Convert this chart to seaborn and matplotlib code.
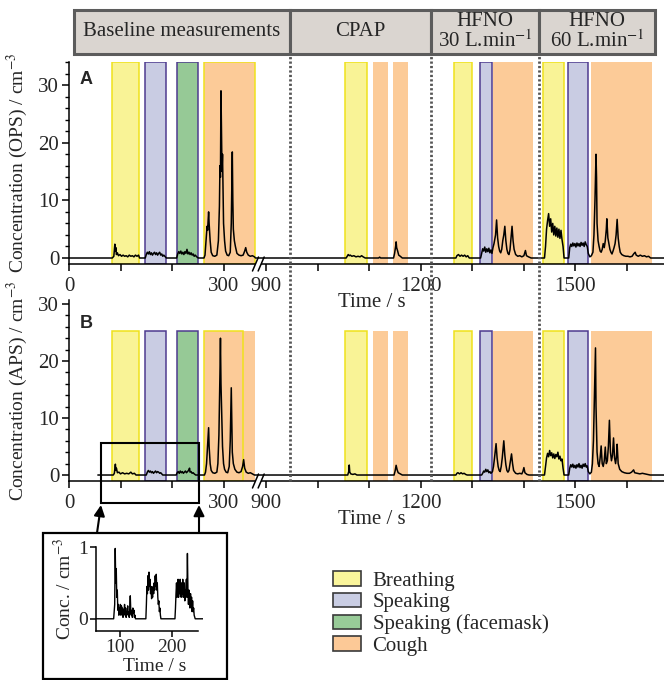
import numpy as np
import matplotlib
matplotlib.use("Agg")
import matplotlib.pyplot as plt
import matplotlib.transforms as mtransforms
import seaborn as sns
from matplotlib.patches import Rectangle, Patch, FancyArrowPatch, Polygon
from matplotlib.lines import Line2D
from matplotlib.ticker import MultipleLocator

# ------------------------------
# Données
# ------------------------------
# OPS (panneau A), temps en s / concentration en cm-3
ops_t = [0, 84, 87, 89, 90, 91, 92, 94, 96, 99, 102, 105, 108, 111, 114, 117, 120, 123, 126, 129, 132, 135, 137,
         148, 150, 152, 154, 156, 158, 160, 162, 164, 166, 168, 170, 172, 174, 176, 178, 180, 182, 184, 187, 189,
         209, 211, 213, 215, 217, 219, 221, 223, 225, 227, 229, 231, 233, 235, 237, 239, 241, 243, 245, 248, 251,
         262, 264, 266, 268, 269, 271, 272, 274, 276, 279, 283, 287, 290, 292, 293, 294, 295, 296, 297, 298, 299,
         300, 302, 304, 307, 310, 313, 315, 316, 317, 318, 319, 321, 323, 326, 330, 334, 338, 341, 343, 345, 348,
         352, 356, 360, 363,
         1055, 1057, 1059, 1061, 1063, 1066, 1070, 1074, 1078, 1082, 1085, 1088, 1092, 1118, 1120, 1122,
         1147, 1149, 1151, 1152, 1153, 1155, 1157, 1160, 1164,
         1268, 1270, 1273, 1276, 1279, 1282, 1285, 1288, 1291, 1294,
         1316, 1318, 1320, 1322, 1324, 1326, 1328, 1330, 1332, 1334, 1336, 1338, 1340, 1342, 1345, 1347, 1349,
         1351, 1353, 1355, 1357, 1359, 1361, 1363, 1365, 1367, 1369, 1371, 1373, 1375, 1377, 1379, 1381, 1384,
         1388, 1392, 1396, 1400, 1402, 1403, 1405, 1409, 1414,
         1440, 1442, 1444, 1446, 1448, 1450, 1452, 1454, 1456, 1458, 1460, 1462, 1464, 1466, 1468, 1470, 1472,
         1474, 1476, 1478,
         1487, 1489, 1491, 1493, 1495, 1497, 1499, 1501, 1503, 1505, 1507, 1509, 1511, 1513, 1515, 1517, 1519,
         1521, 1523, 1525, 1528, 1531, 1534, 1536, 1538, 1540, 1541, 1542, 1544, 1546, 1548, 1550, 1552, 1554,
         1556, 1558, 1560, 1561, 1563, 1565, 1567, 1569, 1571, 1573, 1575, 1577, 1579, 1581, 1583, 1585, 1587,
         1590, 1594, 1598, 1602, 1606, 1610, 1613, 1616, 1618, 1622, 1626, 1630, 1634, 1638, 1642, 1646, 1680]
ops_c = [0, 0, 0.3, 2.4, 1.2, 1.8, 0.6, 0.9, 0.4, 0.6, 0.3, 0.5, 0.3, 0.4, 0.2, 0.5, 0.3, 0.4, 0.2, 0.5, 0.3, 0.5, 0,
         0, 0.6, 1.0, 0.7, 1.1, 0.6, 0.9, 0.5, 0.8, 1.0, 0.6, 0.9, 0.5, 0.8, 1.0, 0.5, 0.7, 0.3, 0.5, 0.2, 0,
         0, 0.7, 1.1, 0.8, 1.2, 0.7, 1.0, 0.6, 1.1, 0.8, 1.5, 0.7, 1.0, 0.6, 0.9, 0.5, 0.7, 0.3, 0.5, 0.2, 0,
         0, 0.5, 3, 5.5, 4.8, 8, 6, 3, 1, 0.4, 0.3, 0.5, 3, 9, 16, 14, 29, 22, 15, 18, 12,
         6, 3, 1.2, 0.5, 0.4, 1, 6, 12, 18.4, 10, 5, 3, 2, 0.8, 0.5, 0.4, 0.5, 1.2, 1.8, 1.0, 0.5,
         0.3, 0.4, 0.2, 0,
         0, 0.3, 0.6, 0.4, 0.5, 0.3, 0.4, 0.2, 0.3, 0.2, 0.4, 0.2, 0, 0, 0.15, 0,
         0, 0.8, 2.0, 2.8, 1.8, 1.2, 0.5, 0.3, 0,
         0, 0.4, 0.6, 0.3, 0.5, 0.3, 0.5, 0.2, 0.4, 0,
         0, 0.8, 1.6, 1.2, 1.9, 1.0, 1.6, 1.1, 1.7, 0.9, 1.4, 0.8, 1.8, 2.5, 4, 6.6, 3.5,
         2, 1.2, 0.9, 1.5, 3, 4, 5.5, 3, 1.5, 0.8, 0.6, 1.4, 3.5, 5.5, 3, 1.5, 0.6,
         0.3, 0.4, 0.2, 0.4, 1.0, 1.3, 0.4, 0.2, 0,
         0, 2, 5, 6.5, 7.7, 5.5, 6.8, 4.5, 6, 4, 5.5, 3.8, 5.2, 3.6, 5, 3.4, 4.8,
         3.2, 2, 0,
         0, 1.8, 2.4, 2.0, 2.6, 2.1, 2.5, 1.9, 2.6, 2.1, 2.5, 2.0, 2.7, 2.2, 2.6, 2.0, 2.8,
         2.3, 2.0, 0.8, 0.2, 0.4, 1, 4, 10, 18, 14, 6, 3, 2, 1.2, 1, 1.5, 2.5,
         1.8, 3, 5, 6.8, 3.5, 2.5, 1.5, 1, 0.7, 1.2, 1.8, 2.5, 4, 6.7, 3.5, 2, 1,
         0.6, 0.4, 0.3, 0.3, 0.2, 0.3, 0.7, 1.0, 0.5, 0.3, 0.5, 0.3, 0.4, 0.2, 0.3, 0, 0]

# APS (panneau B)
aps_t = [56, 86, 88, 90, 91, 92, 94, 97, 100, 104, 108, 112, 116, 120, 123, 127, 130,
         150, 152, 154, 156, 158, 160, 162, 164, 166, 168, 170, 172, 174, 176, 178, 180, 182,
         208, 210, 212, 214, 216, 218, 220, 222, 224, 226, 228, 230, 232, 234, 235, 237, 239, 241, 243, 246,
         263, 265, 267, 269, 271, 272, 274, 276, 279, 283, 287, 289, 291, 292, 293, 294, 295, 296, 297, 298,
         300, 302, 305, 308, 311, 313, 314, 315, 316, 317, 319, 322, 326, 330, 334, 337, 339, 341, 344, 348,
         352, 356, 360,
         1058, 1060, 1061, 1062, 1064, 1068, 1072, 1076, 1148, 1150, 1152, 1154, 1156, 1160, 1164,
         1268, 1270, 1272, 1275, 1278, 1281, 1284, 1287, 1290,
         1318, 1320, 1322, 1324, 1326, 1328, 1330, 1332, 1334, 1336, 1339, 1341, 1343, 1346, 1348, 1350, 1352,
         1354, 1356, 1358, 1361, 1363, 1365, 1367, 1369, 1371, 1373, 1376, 1378, 1380, 1384, 1388, 1392, 1396,
         1398, 1400, 1402, 1406, 1410,
         1440, 1442, 1444, 1446, 1448, 1450, 1452, 1454, 1456, 1458, 1460, 1462, 1464, 1466, 1468, 1470, 1472,
         1474, 1476, 1478,
         1487, 1489, 1491, 1493, 1495, 1497, 1499, 1501, 1503, 1505, 1507, 1509, 1511, 1513, 1515, 1517, 1519,
         1521, 1523, 1525, 1528, 1531, 1533, 1535, 1537, 1539, 1540, 1542, 1544, 1546, 1548, 1550, 1552, 1554,
         1556, 1558, 1560, 1562, 1564, 1566, 1568, 1570, 1572, 1574, 1576, 1578, 1580, 1581, 1583, 1586, 1590,
         1595, 1600, 1605, 1609, 1611, 1613, 1615, 1620, 1625, 1630, 1635, 1640, 1645, 1680]
aps_c = [0, 0, 0.3, 1.9, 0.8, 1.2, 0.4, 0.5, 0.2, 0.4, 0.2, 0.3, 0.2, 0.5, 0.2, 0.3, 0,
         0, 0.5, 0.8, 0.5, 0.7, 0.4, 0.6, 0.3, 0.5, 0.7, 0.4, 0.6, 0.5, 0.3, 0.4, 0.2, 0,
         0, 0.4, 0.6, 0.3, 0.7, 0.4, 0.6, 0.3, 0.5, 0.7, 0.4, 0.6, 0.8, 1.2, 0.5, 0.6, 0.3, 0.4, 0.2, 0,
         0, 0.5, 2, 5, 8.3, 5, 2, 0.8, 0.4, 0.3, 0.5, 2, 7, 12, 17.7, 24, 16, 12.4, 9, 5,
         2, 1, 0.5, 0.4, 1.5, 6, 11, 15.3, 9, 4, 2, 1, 0.5, 0.4, 0.6, 1.5, 2.7, 1.2, 0.5, 0.3,
         0.4, 0.2, 0,
         0, 0.6, 1.75, 0.5, 0.2, 0.1, 0.2, 0, 0, 0.7, 1.7, 0.9, 0.4, 0.2, 0,
         0, 0.3, 0.4, 0.2, 0.4, 0.2, 0.3, 0.1, 0,
         0, 0.3, 0.7, 0.5, 1.0, 0.6, 0.9, 0.4, 0.6, 0.3, 0.6, 1.5, 3, 5.5, 3, 1.5, 0.8,
         0.6, 1.5, 3, 6, 3.5, 1.8, 0.8, 0.5, 0.8, 2, 3.7, 2, 0.8, 0.3, 0.2, 0.3, 0.2,
         0.6, 1.3, 0.4, 0.1, 0,
         0, 1.5, 3, 3.8, 3.2, 4.3, 3.4, 3.9, 3.0, 3.7, 2.9, 3.6, 3.2, 4.0, 2.8, 3.3, 2.5,
         2.8, 1.2, 0,
         0, 1.2, 1.8, 1.4, 1.9, 1.3, 1.7, 1.2, 1.8, 1.4, 2.0, 1.3, 1.7, 1.2, 1.9, 1.5, 2.0,
         1.4, 1.6, 0.6, 0.2, 0.5, 2, 6, 14, 22.3, 12, 4, 2, 1.5, 3, 5.1, 2, 1.5,
         2.5, 4.9, 2, 2.5, 5, 9.6, 4, 2.5, 3.5, 6.5, 3, 2, 3.5, 5.4, 2, 1, 0.6,
         0.4, 0.3, 0.3, 0.5, 0.7, 0.9, 0.4, 0.3, 0.2, 0.3, 0.2, 0.1, 0, 0]

# Encart : zoom sur les mesures de base (APS)
inset_t = [54, 88, 90, 91, 92, 93, 94, 95, 96, 97, 98, 99, 100, 101, 102, 103, 104, 105, 106, 107, 108, 109,
           110, 111, 112, 113, 114, 115, 116, 117, 118, 119, 120, 121, 122, 123, 124, 125, 126, 127, 128, 129, 130,
           150, 151, 152, 153, 154, 155, 156, 157, 158, 159, 160, 161, 162, 163, 164, 165, 166, 167, 168, 169,
           170, 171, 172, 173, 174, 175, 176, 177, 178, 179,
           206, 207, 208, 209, 210, 211, 212, 213, 214, 215, 216, 217, 218, 219, 220, 221, 222, 223, 224, 225,
           226, 227, 228, 229, 230, 231, 232, 233, 234, 235, 236, 237, 238, 239, 240, 241, 242, 243, 245, 260]
inset_c = [0, 0, 0.2, 0.98, 0.5, 0.7, 0.3, 0.4, 0.12, 0.2, 0.05, 0.15, 0.1, 0.2, 0.05, 0.18, 0.08, 0.15, 0.02,
           0.12, 0.1, 0.2, 0.05, 0.15, 0.02, 0.1, 0.08, 0.18, 0.05, 0.1, 0.02, 0.15, 0.32, 0.1, 0.05, 0.12, 0.02,
           0.15, 0.08, 0.12, 0.02, 0.05, 0,
           0, 0.2, 0.45, 0.35, 0.6, 0.4, 0.65, 0.45, 0.55, 0.35, 0.45, 0.28, 0.35, 0.3, 0.45, 0.35, 0.5, 0.4,
           0.6, 0.45, 0.62, 0.4, 0.5, 0.3, 0.2, 0.25, 0.1, 0.15, 0.05, 0,
           0, 0.15, 0.35, 0.5, 0.3, 0.45, 0.55, 0.3, 0.5, 0.35, 0.55, 0.4, 0.3, 0.5, 0.35, 0.55, 0.3, 0.45, 0.5,
           0.25, 0.4, 0.35, 0.55, 0.3, 0.91, 0.4, 0.2, 0.4, 0.3, 0.15, 0.35, 0.2, 0.3, 0.1, 0.25, 0.1, 0.15,
           0.05, 0, 0]

# Périodes d'activité (début, fin, type)
span_start = [84, 148, 210, 263, 1053, 1107, 1146, 1264, 1314, 1341, 1438, 1486, 1531]
span_end = [136, 189, 251, 362, 1096, 1136, 1175, 1299, 1339, 1417, 1477, 1525, 1649]
span_kind = ['Breathing', 'Speaking', 'Speaking (facemask)', 'Cough',
             'Breathing', 'Cough', 'Cough',
             'Breathing', 'Speaking', 'Cough',
             'Breathing', 'Speaking', 'Cough']
cough_outline_A = (263, 362)
cough_outline_B = (263, 337)

header_labels = ['Baseline measurements', 'CPAP', 'HFNO\n30 L.min$^{-1}$', 'HFNO\n60 L.min$^{-1}$']
header_edges = [10, 946, 1219, 1430, 1655]
switch_times = [946, 1219, 1430]

x_ticks = [0, 100, 200, 300, 900, 1000, 1100, 1200, 1300, 1400, 1500, 1600]
x_ticklabels = ['0', '', '', '300', '900', '', '', '1200', '', '', '1500', '']

legend_labels = ['Breathing', 'Speaking', 'Speaking (facemask)', 'Cough']

# ------------------------------
# Style
# ------------------------------
sns.set_style("ticks")
plt.rcParams['font.family'] = ['Liberation Serif', 'DejaVu Serif']
plt.rcParams['mathtext.fontset'] = 'stix'
plt.rcParams['font.size'] = 15

span_style = {
    'Breathing': ('#f9f396', '#efe21c'),
    'Speaking': ('#c9cce3', '#4e3b8f'),
    'Speaking (facemask)': ('#96c996', '#4e3b8f'),
    'Cough': ('#fccb98', 'none'),
}
legend_face = {'Breathing': '#faf59b', 'Speaking': '#c9cde3',
               'Speaking (facemask)': '#98cb98', 'Cough': '#fcc997'}

W, H = 664, 680
fig = plt.figure(figsize=(W / 100, H / 100), dpi=100)


def box(x0, y0, x1, y1):
    return [x0 / W, 1 - y1 / H, (x1 - x0) / W, (y1 - y0) / H]


# axe du temps coupé entre 362 s et 890 s
T_CUT, T_RESUME, GAP = 362, 890, 11


def fwd(t):
    t = np.asarray(t, dtype=float)
    return np.where(t <= T_CUT, t,
                    np.where(t >= T_RESUME, t - T_RESUME + T_CUT + GAP,
                             T_CUT + (t - T_CUT) * GAP / (T_RESUME - T_CUT)))


def inv(u):
    u = np.asarray(u, dtype=float)
    return np.where(u <= T_CUT, u,
                    np.where(u >= T_CUT + GAP, u - T_CUT - GAP + T_RESUME,
                             T_CUT + (u - T_CUT) * (T_RESUME - T_CUT) / GAP))


axA = fig.add_axes(box(69, 62, 663.5, 264))
axB = fig.add_axes(box(69, 300, 663.5, 481))

panels = [
    (axA, ops_t, ops_c, (-1.04, 34), 1.0, cough_outline_A, 'Concentration (OPS) / cm$^{-3}$'),
    (axB, aps_t, aps_c, (-1.05, 30.7), 0.83, cough_outline_B, 'Concentration (APS) / cm$^{-3}$'),
]

for ax, tt, cc, ylim, ytop, outline, ylab in panels:
    ax.set_facecolor('none')
    for t0, t1, k in zip(span_start, span_end, span_kind):
        face, edge = span_style[k]
        ax.axvspan(t0, t1, ymin=0, ymax=ytop, facecolor=face, edgecolor=edge, lw=1.1, zorder=1)
    ax.axvspan(outline[0], outline[1], ymin=0, ymax=ytop, fill=False,
               edgecolor=span_style['Breathing'][1], lw=1.1, zorder=1.5)
    sns.lineplot(x=tt, y=cc, ax=ax, color='black', linewidth=1.1,
                 estimator=None, sort=False, legend=False, zorder=3)
    ax.set_xscale('function', functions=(fwd, inv))
    ax.set_xlim(0, 1671)
    ax.set_ylim(*ylim)
    ax.set_xticks(x_ticks)
    ax.set_xticklabels(x_ticklabels)
    ax.yaxis.set_major_locator(MultipleLocator(10))
    ax.yaxis.set_minor_locator(MultipleLocator(2))
    ax.tick_params(which='major', length=5, width=1.1, labelsize=15, pad=2, color='black')
    ax.tick_params(which='minor', length=3, width=1.0, color='black')
    ax.tick_params(axis='x', pad=4.5)
    for s in ['top', 'right']:
        ax.spines[s].set_visible(False)
    for s in ['left', 'bottom']:
        ax.spines[s].set_linewidth(1.1)
        ax.spines[s].set_color('black')
    ax.set_ylabel(ylab, fontsize=14)
    ax.yaxis.set_label_coords(-0.066, 0.5)
    ax.set_xlabel('Time / s', fontsize=15)

axA.xaxis.set_label_coords(0.51, -0.145)
axB.xaxis.set_label_coords(0.51, -0.16)

# marques de coupure //
for ax in (axA, axB):
    xa = ax.transData.transform([(T_CUT, 0)])[0][0]
    xb = ax.transData.transform([(T_RESUME, 0)])[0][0]
    ys = ax.transAxes.transform([(0, 0)])[0][1]
    gap_poly = Polygon([(xa - 1, ys - 3), (xb - 1, ys - 3), (xb + 1, ys + 3), (xa + 1, ys + 3)],
                       closed=True, facecolor='white', edgecolor='none', transform=None, zorder=6)
    fig.add_artist(gap_poly)
    for xc in (xa, xb):
        fig.add_artist(Line2D([xc - 3, xc + 3], [ys - 7, ys + 7], color='black', lw=1.1,
                              transform=None, zorder=7))

# bandeau d'en-tête
blend = mtransforms.blended_transform_factory(axA.transData, fig.transFigure)
for i, lab in enumerate(header_labels):
    x0, x1 = header_edges[i], header_edges[i + 1]
    fig.add_artist(Rectangle((x0, 1 - 54 / H), x1 - x0, 44 / H, transform=blend,
                             facecolor='#dad5d0', edgecolor='#5c5c5c', lw=2.2, zorder=4))
    px = axA.transData.transform([(x0, 0), (x1, 0)])[:, 0].mean()
    fig.text(px / W, 1 - 32 / H, lab, ha='center', va='center', fontsize=15,
             linespacing=0.95, zorder=5)

# lignes pointillées de changement de condition
for t in switch_times:
    fig.add_artist(Line2D([t, t], [1 - 481 / H, 1 - 54 / H], transform=blend, color='#555555',
                          lw=2.0, linestyle=(0, (0.8, 0.8)), zorder=8))

# lettres des panneaux
fig.text(86 / W, 1 - 79 / H, 'A', family=['Liberation Sans', 'DejaVu Sans'], weight='bold',
         fontsize=13, ha='center', va='center')
fig.text(86 / W, 1 - 323 / H, 'B', family=['Liberation Sans', 'DejaVu Sans'], weight='bold',
         fontsize=13, ha='center', va='center')

# zone agrandie dans B
axB.add_patch(Rectangle((62, -4.9), 191, 10.5, fill=False, lw=1.5, edgecolor='black',
                        clip_on=False, zorder=6))

# encart
fig.add_artist(Rectangle((43 / W, 1 - 679 / H), 184 / W, 146 / H, transform=fig.transFigure,
                         fill=False, edgecolor='black', lw=1.6, zorder=1))
for p0, p1 in [((97, 533), (101, 505)), ((199, 533), (199, 505))]:
    fig.add_artist(FancyArrowPatch((p0[0] / W, 1 - p0[1] / H), (p1[0] / W, 1 - p1[1] / H),
                                   transform=fig.transFigure, arrowstyle='-|>', mutation_scale=16,
                                   lw=1.5, color='black', shrinkA=0, shrinkB=0, zorder=6))

axI = fig.add_axes(box(96, 547, 203, 631))
axI.set_facecolor('none')
sns.lineplot(x=inset_t, y=inset_c, ax=axI, color='black', linewidth=1.0,
             estimator=None, sort=False, legend=False)
axI.set_xlim(54, 260)
axI.set_ylim(-0.17, 1.0)
axI.set_xticks([100, 200])
axI.set_yticks([0, 1])
axI.spines['bottom'].set_bounds(54, 250)
for s in ['top', 'right']:
    axI.spines[s].set_visible(False)
for s in ['left', 'bottom']:
    axI.spines[s].set_linewidth(1.1)
    axI.spines[s].set_color('black')
axI.tick_params(length=4, width=1.1, labelsize=14, pad=1.5, color='black')
axI.set_xlabel('Time / s', fontsize=14)
axI.set_ylabel('Conc. / cm$^{-3}$', fontsize=14)
axI.xaxis.set_label_coords(0.55, -0.32)
axI.yaxis.set_label_coords(-0.2, 0.5)

# légende
handles = [Patch(facecolor=legend_face[k], edgecolor='#3a3a3a', lw=1.2) for k in legend_labels]
fig.legend(handles, legend_labels, loc='upper left', bbox_to_anchor=(333 / W, 1 - 571 / H),
           frameon=False, borderpad=0, borderaxespad=0, handlelength=1.35, handleheight=0.7,
           handletextpad=0.55, labelspacing=0.1, fontsize=15)

fig.savefig("out.png", dpi=100)
plt.close(fig)
